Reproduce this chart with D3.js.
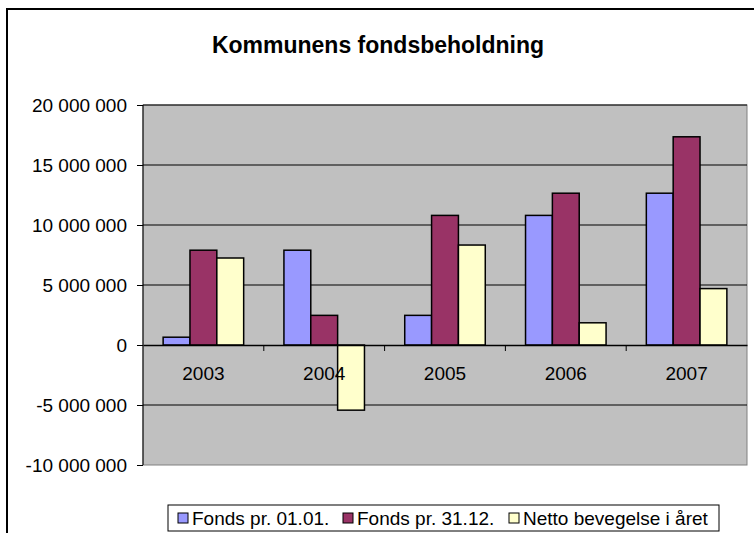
<!DOCTYPE html>
<html>
<head>
<meta charset="utf-8">
<style>
  html, body { margin: 0; padding: 0; background: #fff; }
  svg { display: block; font-family: "Liberation Sans", Arial, sans-serif; }
</style>
</head>
<body>
<div id="chart"></div>
<script src="https://cdn.jsdelivr.net/npm/d3@7"></script>
<script>
const years = ['2003', '2004', '2005', '2006', '2007'];
const seriesNames = ['Fonds pr. 01.01.', 'Fonds pr. 31.12.', 'Netto bevegelse i året'];
const fondsStart = [650000, 7900000, 2470000, 10800000, 12650000];
const fondsEnd = [7900000, 2470000, 10800000, 12650000, 17350000];
const netto = [7250000, -5430000, 8330000, 1850000, 4700000];
const colors = ['#9999FF', '#993366', '#FFFFCC'];
const yTicks = [-10000000, -5000000, 0, 5000000, 10000000, 15000000, 20000000];

const width = 754, height = 533;
const plot = { left: 143, top: 105, right: 747, bottom: 465 };

const svg = d3.select('#chart').append('svg')
  .attr('width', width)
  .attr('height', height);

// chart area border (runs past the right and bottom edge)
svg.append('rect')
  .attr('x', 7).attr('y', 9)
  .attr('width', 800).attr('height', 600)
  .attr('fill', '#fff')
  .attr('stroke', '#000')
  .attr('stroke-width', 2);

svg.append('text')
  .attr('x', 378).attr('y', 53)
  .attr('text-anchor', 'middle')
  .style('font-size', '23px')
  .style('font-weight', 'bold')
  .text('Kommunens fondsbeholdning');

const x = d3.scaleBand().domain(years).range([plot.left, plot.right]);
const y = d3.scaleLinear().domain([-10000000, 20000000]).range([plot.bottom, plot.top]);
const bw = x.bandwidth() / 4.5;
const x1 = d3.scaleBand().domain(d3.range(3)).range([0.75 * bw, 3.75 * bw]);

svg.append('rect')
  .attr('x', plot.left).attr('y', plot.top)
  .attr('width', plot.right - plot.left).attr('height', plot.bottom - plot.top)
  .attr('fill', '#C0C0C0')
  .attr('stroke', '#808080')
  .attr('stroke-width', 1);

// gridlines
svg.append('g')
  .selectAll('line')
  .data(yTicks.filter(d => d !== 0 && d !== -10000000))
  .join('line')
  .attr('x1', plot.left).attr('x2', plot.right)
  .attr('y1', d => y(d)).attr('y2', d => y(d))
  .attr('stroke', '#000')
  .attr('stroke-width', 1);

// y axis
const yAxis = svg.append('g')
  .attr('transform', `translate(${plot.left},0)`)
  .call(d3.axisLeft(y).tickValues(yTicks).tickSize(6).tickPadding(10)
    .tickFormat(d => d3.format(',')(d).replace(/,/g, ' ').replace('−', '-')));
yAxis.select('.domain').attr('stroke', '#000').attr('d', `M0,${plot.top}V${plot.bottom}`);
yAxis.selectAll('.tick line').attr('stroke', '#000');
yAxis.selectAll('text').style('font-size', '19px').attr('fill', '#000');

// bars
const data = years.map((yr, i) => ({ yr, vals: [fondsStart[i], fondsEnd[i], netto[i]] }));
svg.append('g')
  .selectAll('g')
  .data(data)
  .join('g')
  .attr('transform', d => `translate(${x(d.yr)},0)`)
  .selectAll('rect')
  .data(d => d.vals.map((v, k) => ({ v, k })))
  .join('rect')
  .attr('x', d => x1(d.k))
  .attr('width', x1.bandwidth())
  .attr('y', d => y(Math.max(0, d.v)))
  .attr('height', d => Math.abs(y(d.v) - y(0)))
  .attr('fill', d => colors[d.k])
  .attr('stroke', '#000')
  .attr('stroke-width', 1.5);

// x axis at zero
const xAxis = svg.append('g')
  .attr('transform', `translate(0,${y(0)})`)
  .call(d3.axisBottom(x).tickSize(0).tickPadding(22));
xAxis.select('.domain').attr('stroke', '#000').attr('stroke-width', 1.5);
xAxis.selectAll('text').style('font-size', '19px').attr('fill', '#000');
svg.append('g')
  .selectAll('line')
  .data(years.slice(1))
  .join('line')
  .attr('x1', d => x(d)).attr('x2', d => x(d))
  .attr('y1', y(0)).attr('y2', y(0) + 6)
  .attr('stroke', '#000');

// legend
const legend = svg.append('g');
legend.append('rect')
  .attr('x', 168).attr('y', 505)
  .attr('width', 551).attr('height', 26)
  .attr('fill', '#fff')
  .attr('stroke', '#000')
  .attr('stroke-width', 1);
const legX = [192, 357, 523];
seriesNames.forEach((name, k) => {
  legend.append('rect')
    .attr('x', legX[k] - 14).attr('y', 513)
    .attr('width', 10).attr('height', 10)
    .attr('fill', colors[k])
    .attr('stroke', '#000');
  legend.append('text')
    .attr('x', legX[k]).attr('y', 525)
    .style('font-size', '19px')
    .text(name);
});
</script>
</body>
</html>
